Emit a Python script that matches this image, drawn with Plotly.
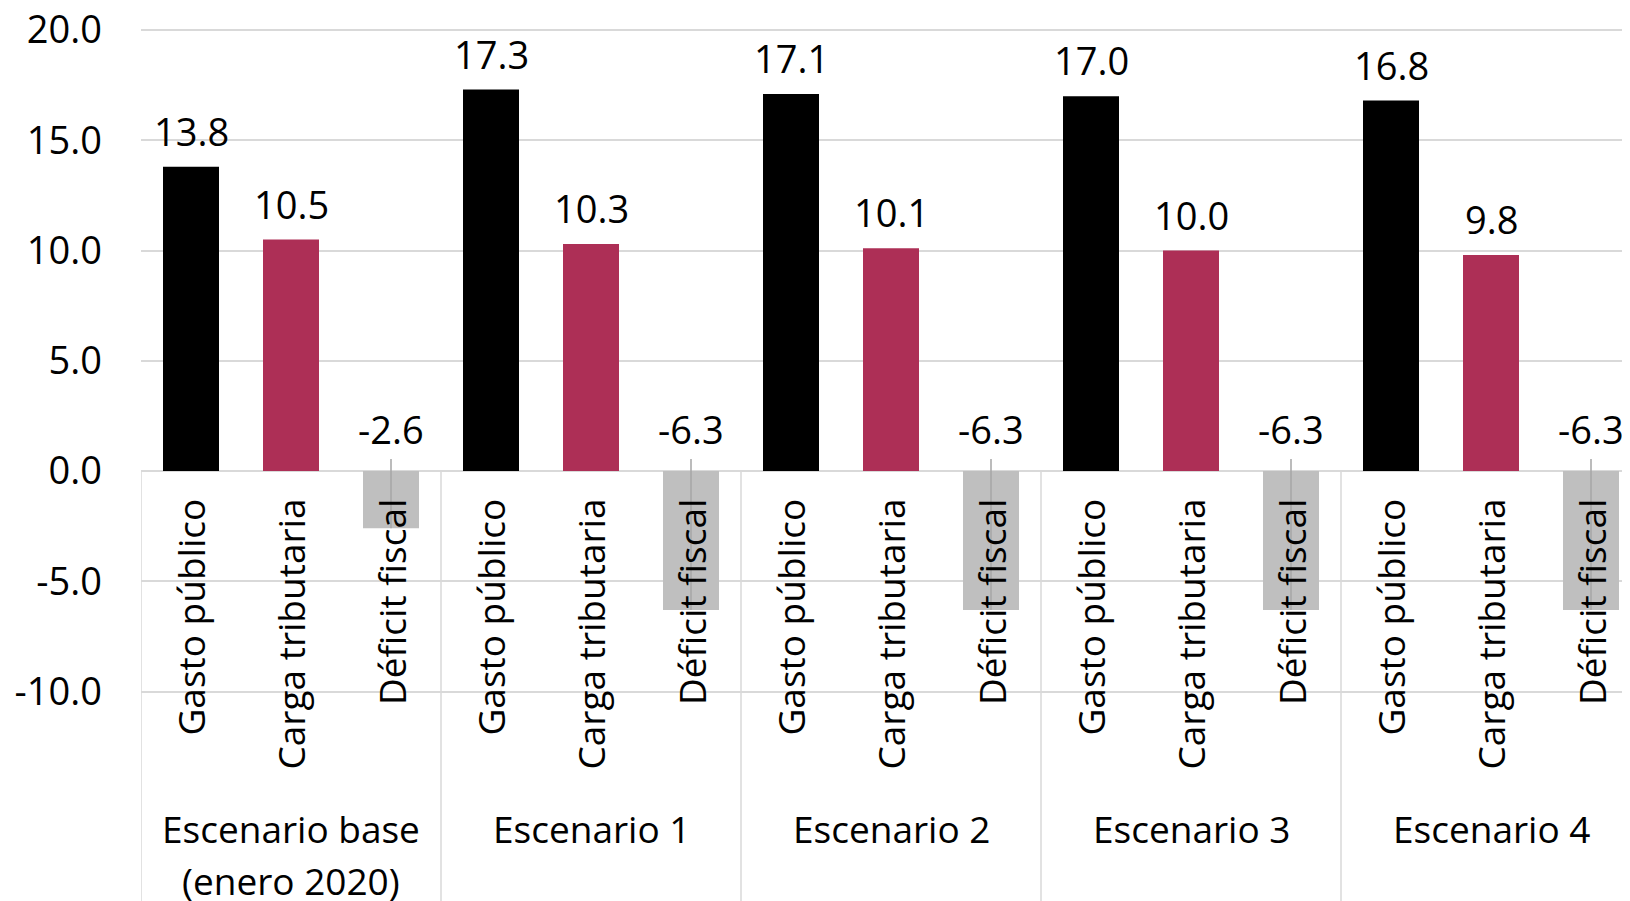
import plotly.graph_objects as go

# ---- data ----
scenarios = ["Escenario base\n(enero 2020)", "Escenario 1", "Escenario 2", "Escenario 3", "Escenario 4"]
series_names = ["Gasto público", "Carga tributaria", "Déficit fiscal"]
gasto = [13.8, 17.3, 17.1, 17.0, 16.8]
carga = [10.5, 10.3, 10.1, 10.0, 9.8]
deficit = [-2.6, -6.3, -6.3, -6.3, -6.3]
y_ticks = [-10, -5, 0, 5, 10, 15, 20]

# ---- style ----
FONT = "Open Sans"
FS_NUM = 38
FS_LBL = 37
colors = ["#000000", "#AD2F56", "#BFBFBF"]
GRID = "#D9D9D9"
n_series = 3
n_groups = len(scenarios)

values = [gasto, carga, deficit]

fig = go.Figure()
for s in range(n_series):
    xs = [g * n_series + s for g in range(n_groups)]
    fig.add_trace(go.Bar(
        x=xs, y=values[s], width=0.56, marker=dict(color=colors[s], line=dict(width=0)),
        name=series_names[s], showlegend=False, hoverinfo="skip",
    ))

annotations = []
shapes = []
for s in range(n_series):
    for g in range(n_groups):
        x = g * n_series + s
        v = values[s][g]
        if v >= 0:
            annotations.append(dict(x=x, y=v, xref="x", yref="y", text=f"{v:.1f}", showarrow=False,
                                    yanchor="middle", yshift=36, font=dict(family=FONT, size=FS_NUM, color="black")))
        else:
            annotations.append(dict(x=x, y=0, xref="x", yref="y", text=f"{v:.1f}", showarrow=False,
                                    yanchor="middle", yshift=42, font=dict(family=FONT, size=FS_NUM, color="black")))
            # leader line
            shapes.append(dict(type="line", xref="x", yref="y", x0=x, x1=x, y0=0.55, y1=v,
                               line=dict(color="#A6A6A6", width=1.5), layer="above"))
        # rotated category label
        annotations.append(dict(x=x, y=0, xref="x", yref="y", text=series_names[s], showarrow=False,
                                textangle=-90, yanchor="top", yshift=-26,
                                font=dict(family=FONT, size=FS_LBL, color="black")))

for g in range(n_groups):
    xc = g * n_series + (n_series - 1) / 2
    for li, line in enumerate(scenarios[g].split("\n")):
        annotations.append(dict(x=xc, y=0, xref="x", yref="y", text=line, showarrow=False,
                                yanchor="middle", yshift=-357 - 52 * li,
                                font=dict(family=FONT, size=FS_LBL, color="black")))

# group separators
for g in range(n_groups + 1):
    xb = g * n_series - 0.5
    shapes.append(dict(type="line", xref="x", yref="y", x0=xb, x1=xb, y0=0, y1=-19.5,
                       line=dict(color=GRID, width=1.5), layer="below"))

# page has an 8px body margin, so the figure is sized to fill the rest of the window
fig.update_layout(
    width=1622, height=893,
    margin=dict(l=133, r=0, t=0, b=0, autoexpand=False),
    plot_bgcolor="white", paper_bgcolor="white",
    barmode="overlay",
    annotations=annotations, shapes=shapes,
    xaxis=dict(range=[-0.5, 14.39], showticklabels=False, showgrid=False, zeroline=False,
               showline=False, fixedrange=True, automargin=False),
    yaxis=dict(range=[-19.5, 21.0], tickvals=y_ticks, ticktext=[f"{t:.1f}" for t in y_ticks],
               showgrid=True, gridcolor=GRID, gridwidth=1.5, zeroline=True, zerolinecolor=GRID,
               zerolinewidth=1.5, showline=False, ticks="", ticklabelstandoff=38,
               ticklabeloverflow="allow", automargin=False,
               tickfont=dict(family=FONT, size=FS_NUM, color="black"), fixedrange=True),
)

fig.write_html("out.html")
